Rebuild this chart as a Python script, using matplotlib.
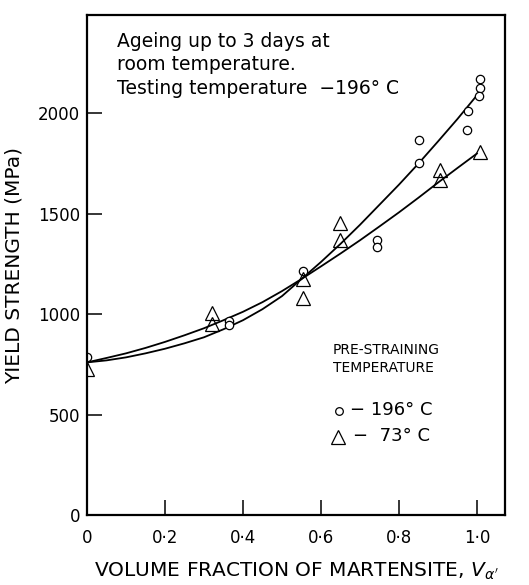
import numpy as np
import matplotlib
matplotlib.use("Agg")
import matplotlib.pyplot as plt

# data
# pre-straining at -196 C (open circles)
vf_c196 = [0.0, 0.364, 0.364, 0.554, 0.743, 0.743, 0.851, 0.851,
           0.978, 0.975, 1.007, 1.007, 1.005]
ys_c196 = [786, 968, 944, 1215, 1370, 1335, 1868, 1752,
           2010, 1915, 2170, 2125, 2085]

# pre-straining at -73 C (open triangles)
vf_c73 = [0.0, 0.32, 0.32, 0.554, 0.554, 0.649, 0.649, 0.905, 0.905, 1.008]
ys_c73 = [725, 1005, 950, 1177, 1081, 1454, 1369, 1717, 1666, 1808]

curve_x = [0.0, 0.05, 0.1, 0.15, 0.2, 0.25, 0.3, 0.35, 0.4, 0.45, 0.5,
           0.55, 0.6, 0.65, 0.7, 0.75, 0.8, 0.85, 0.9, 0.95, 1.0]
curve_c196 = [760, 770, 785, 805, 828, 855, 885, 925, 970, 1025, 1090,
              1175, 1260, 1350, 1445, 1545, 1645, 1750, 1860, 1972, 2090]
curve_c73 = [760, 782, 805, 832, 862, 895, 930, 970, 1012, 1060, 1115,
             1175, 1238, 1302, 1368, 1437, 1507, 1580, 1655, 1728, 1800]

xticks = [0, 0.2, 0.4, 0.6, 0.8, 1.0]
xticklabels = ["0", "0·2", "0·4", "0·6", "0·8", "1·0"]
yticks = [0, 500, 1000, 1500, 2000]

fig = plt.figure(figsize=(5.29, 5.85), dpi=100)
ax = fig.add_axes([87 / 529, 1 - 515 / 585, 418 / 529, 500 / 585])

ax.plot(curve_x, curve_c196, color="black", lw=1.3)
ax.plot(curve_x, curve_c73, color="black", lw=1.3)
ax.plot(vf_c196, ys_c196, "o", ms=6, mfc="white", mec="black", mew=0.9)
ax.plot(vf_c73, ys_c73, "^", ms=10, mfc="none", mec="black", mew=0.9)

ax.set_xlim(0, 1.072)
ax.set_ylim(0, 2490)
ax.set_xticks(xticks)
ax.set_xticklabels(xticklabels)
ax.set_yticks(yticks)
ax.tick_params(direction="in", length=11, width=1.1, labelsize=12)
ax.tick_params(axis="y", pad=5)
ax.tick_params(axis="x", pad=10)
for s in ax.spines.values():
    s.set_linewidth(1.6)

ax.set_ylabel("YIELD STRENGTH (MPa)", fontsize=14.5, labelpad=10)
ax.set_xlabel("VOLUME FRACTION OF MARTENSITE, $V_{\\alpha'}$",
              fontsize=14.5, labelpad=10)

ax.text(117 / 529, 1 - 32 / 585,
        "Ageing up to 3 days at\nroom temperature.\nTesting temperature  −196° C",
        transform=fig.transFigure, fontsize=13.5, va="top", ha="left",
        linespacing=1.3)

# legend block
ax.text(333 / 529, 1 - 343 / 585, "PRE-STRAINING\nTEMPERATURE",
        transform=fig.transFigure, fontsize=10, va="top", ha="left",
        linespacing=1.35)
ax.plot([339 / 529], [1 - 411 / 585], "o", ms=5.5, mfc="white", mec="black",
        mew=0.9, transform=fig.transFigure, clip_on=False)
ax.plot([338 / 529], [1 - 437 / 585], "^", ms=10, mfc="none", mec="black",
        mew=0.9, transform=fig.transFigure, clip_on=False)
ax.text(350 / 529, 1 - 410 / 585, "− 196° C",
        transform=fig.transFigure, fontsize=13, va="center", ha="left")
ax.text(353 / 529, 1 - 436 / 585, "−  73° C",
        transform=fig.transFigure, fontsize=13, va="center", ha="left")

fig.savefig("out.png", dpi=100)
